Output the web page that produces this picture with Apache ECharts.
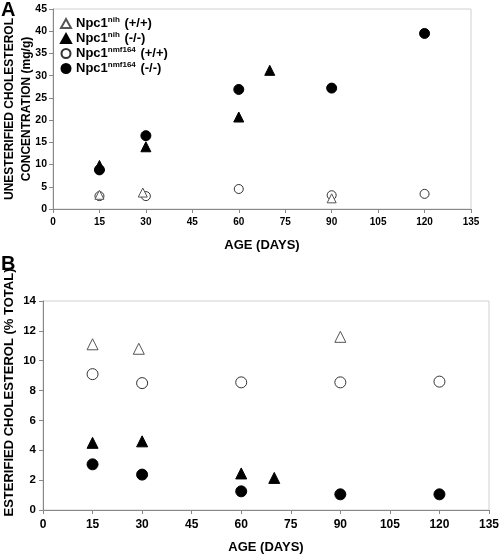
<!DOCTYPE html>
<html><head><meta charset="utf-8">
<script src="https://cdn.jsdelivr.net/npm/echarts@6/dist/echarts.min.js"></script>
<style>html,body{margin:0;padding:0;background:#fff}#c{width:499px;height:556px}</style>
</head><body><div id="c"></div>
<script>
// Panel A: unesterified cholesterol (mg/g) vs age (days)
const seriesNames = ['Npc1nih (+/+)', 'Npc1nih (-/-)', 'Npc1nmf164 (+/+)', 'Npc1nmf164 (-/-)'];
const A_nihWT  = [[15, 3.2], [29, 3.7], [90, 2.4]];
const A_nihKO  = [[15, 9.8], [30, 14.0], [60, 20.7], [70, 31.2]];
const A_nmfWT  = [[15, 2.9], [30, 2.9], [60, 4.5], [90, 3.1], [120, 3.4]];
const A_nmfKO  = [[15, 8.8], [30, 16.5], [60, 26.9], [90, 27.2], [120, 39.5]];
// Panel B: esterified cholesterol (% total) vs age (days)
const B_nihWT  = [[15, 11.1], [29, 10.8], [90, 11.6]];
const B_nihKO  = [[15, 4.5], [30, 4.6], [60, 2.45], [70, 2.15]];
const B_nmfWT  = [[15, 9.1], [30, 8.5], [60, 8.55], [90, 8.55], [120, 8.6]];
const B_nmfKO  = [[15, 3.06], [30, 2.37], [60, 1.25], [90, 1.05], [120, 1.05]];
const xTicks = {min: 0, max: 135, interval: 15};
const yTicksA = {min: 0, max: 45, interval: 5};
const yTicksB = {min: 0, max: 14, interval: 2};

const FF = '"Liberation Sans", Arial, sans-serif';
const chart = echarts.init(document.getElementById('c'));
const styles = [
  {symbol: 'triangle', itemStyle: {color: '#fff', borderColor: '#555', borderWidth: 1, opacity: 1}},
  {symbol: 'triangle', itemStyle: {color: '#000', borderColor: '#000', borderWidth: 1, opacity: 1}},
  {symbol: 'circle', itemStyle: {color: '#fff', borderColor: '#333', borderWidth: 1, opacity: 1}},
  {symbol: 'circle', itemStyle: {color: '#000', borderColor: '#000', borderWidth: 1, opacity: 1}}
];
const dataA = [A_nihWT, A_nihKO, A_nmfWT, A_nmfKO];
const dataB = [B_nihWT, B_nihKO, B_nmfWT, B_nmfKO];
const series = [];
dataA.forEach((d, i) => series.push(Object.assign({
  type: 'scatter', name: seriesNames[i], xAxisIndex: 0, yAxisIndex: 0, data: d,
  symbolSize: i % 2 === 0 ? 9 : 10, z: i === 0 ? 3 : 2
}, styles[i])));
dataB.forEach((d, i) => series.push(Object.assign({
  type: 'scatter', name: seriesNames[i], xAxisIndex: 1, yAxisIndex: 1, data: d,
  symbolSize: 11
}, styles[i])));

const axisLine = {lineStyle: {color: '#888', width: 1}};
const axisTick = {show: true, length: 4, lineStyle: {color: '#888'}};
function xAxis(idx, fs, margin, gap) {
  return Object.assign({
    type: 'value', gridIndex: idx, name: 'AGE (DAYS)', nameLocation: 'middle', nameGap: gap,
    nameMoveOverlap: false,
    nameTextStyle: {fontFamily: FF, fontWeight: 'bold', fontSize: 13, color: '#000'},
    axisLine, axisTick, splitLine: {show: false},
    axisLabel: {fontFamily: FF, fontWeight: 'bold', fontSize: fs, color: '#000', margin}
  }, xTicks);
}
chart.setOption({
  animation: false,
  backgroundColor: '#fff',
  grid: [
    {left: 53, top: 9, right: 28, bottom: 347, show: true, borderColor: '#d0d0d0', borderWidth: 1, containLabel: false, outerBoundsMode: 'none'},
    {left: 43, top: 301, right: 10, bottom: 46, show: true, borderColor: '#d0d0d0', borderWidth: 1, containLabel: false, outerBoundsMode: 'none'}
  ],
  legend: {
    data: seriesNames, orient: 'vertical', left: 55, top: 11, itemWidth: 10, itemHeight: 9, itemGap: 1,
    formatter: n => {
      const m = n.match(/^Npc1(nih|nmf164) (.*)$/);
      return '{b|Npc1}{s|' + m[1] + '}{b| ' + m[2] + '}';
    },
    textStyle: {
      fontFamily: FF, fontWeight: 'bold', color: '#000', fontSize: 13,
      rich: {
        b: {fontFamily: FF, fontWeight: 'bold', fontSize: 13, color: '#000', lineHeight: 15},
        s: {fontFamily: FF, fontWeight: 'bold', fontSize: 8, color: '#000', verticalAlign: 'top', lineHeight: 10, padding: [0, 1, 6, 0]}
      }
    }
  },
  xAxis: [xAxis(0, 10, 8, 30), xAxis(1, 12, 9, 31)],
  yAxis: [
    Object.assign({
      type: 'value', gridIndex: 0, name: 'UNESTERIFIED CHOLESTEROL\nCONCENTRATION (mg/g)',
      nameLocation: 'middle', nameGap: 18, nameMoveOverlap: false,
      nameTextStyle: {fontFamily: FF, fontWeight: 'bold', fontSize: 12, color: '#000', lineHeight: 17},
      axisLine: Object.assign({show: true}, axisLine), axisTick, splitLine: {show: false},
      axisLabel: {fontFamily: FF, fontWeight: 'bold', fontSize: 10.5, color: '#000', margin: 6}
    }, yTicksA),
    Object.assign({
      type: 'value', gridIndex: 1, name: 'ESTERIFIED CHOLESTEROL (% TOTAL)',
      nameLocation: 'middle', nameGap: 27, nameMoveOverlap: false,
      nameTextStyle: {fontFamily: FF, fontWeight: 'bold', fontSize: 13, color: '#000', padding: [0, 0, 0, 26]},
      axisLine: Object.assign({show: true}, axisLine), axisTick, splitLine: {show: false},
      axisLabel: {fontFamily: FF, fontWeight: 'bold', fontSize: 11.5, color: '#000', margin: 7}
    }, yTicksB)
  ],
  graphic: [
    {type: 'text', left: 1, top: 0, style: {text: 'A', fontFamily: FF, fontWeight: 'bold', fontSize: 20, fill: '#000'}},
    {type: 'text', left: 1, top: 254, style: {text: 'B', fontFamily: FF, fontWeight: 'bold', fontSize: 20, fill: '#000'}}
  ],
  series
});
</script></body></html>
